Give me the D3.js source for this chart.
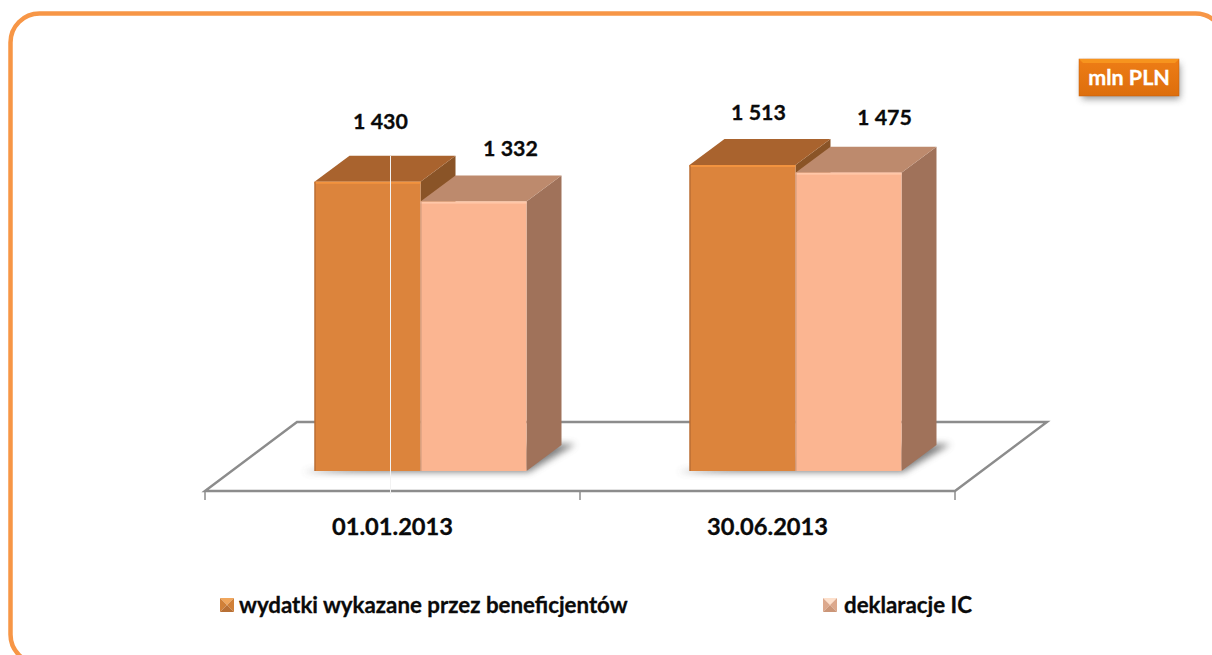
<!DOCTYPE html>
<html>
<head>
<meta charset="utf-8">
<script src="https://cdnjs.cloudflare.com/ajax/libs/d3/7.8.5/d3.min.js"></script>
<style>
  body { margin: 0; background: #fff; overflow: hidden; }
  text { font-family: Lato, "Open Sans", sans-serif; font-weight: 700; fill: #0a0a0a; stroke: #0a0a0a; stroke-width: 0.3px; }
</style>
</head>
<body>
<div class="chart"></div>
<script>
var categories = ["01.01.2013", "30.06.2013"];
var seriesNames = ["wydatki wykazane przez beneficjentów", "deklaracje IC"];
var wydatki = [1430, 1513];
var deklaracje = [1332, 1475];
var valueLabels = [["1 430", "1 513"], ["1 332", "1 475"]];
var unitLabel = "mln PLN";

var svgWidth = 1212;
var svgHeight = 655;

var frontColors = ["#dc843c", "#fbb591"];
var topColors = ["#a9632e", "#bd8a6d"];
var sideColors = ["#8a5427", "#a0725a"];
var edgeColors = ["#f2933f", "#ffc7a8"];
var seamColors = ["#a9632e", "#d09a7c"];

var svg = d3.select(".chart")
    .append("svg")
    .attr("width", svgWidth)
    .attr("height", svgHeight)
    .style("display", "block");

var defs = svg.append("defs");
defs.append("filter").attr("id", "blur").attr("x", "-20%").attr("y", "-50%").attr("width", "140%").attr("height", "200%")
    .append("feGaussianBlur").attr("stdDeviation", 3.5);

var btn = defs.append("linearGradient").attr("id", "btnFill").attr("x1", 0).attr("y1", 0).attr("x2", 0).attr("y2", 1);
btn.append("stop").attr("offset", "0").attr("stop-color", "#ee7d16");
btn.append("stop").attr("offset", "1").attr("stop-color", "#dd6e0c");

// outer frame, runs off the right and bottom of the picture
svg.append("rect")
    .attr("x", 10.5).attr("y", 13.5)
    .attr("width", 1214).attr("height", 650)
    .attr("rx", 29).attr("ry", 29)
    .attr("fill", "#fff")
    .attr("stroke", "#f79646")
    .attr("stroke-width", 4.5);

// depth of the 3d box
var depthX = 35;
var depthY = 26;
var baseY = 471;
var floorFrontY = 491;
var floorBackY = 422;

var x0 = d3.scaleBand().domain(categories).range([205, 955]);
var x1 = d3.scaleBand().domain(d3.range(seriesNames.length)).range([0, 212]);
var barShift = (x0.bandwidth() - x1.range()[1]) / 2 + 28;
var y = d3.scaleLinear().domain([0, 1513]).range([baseY, 165]);

var bars = [];
categories.forEach(function(c, i) {
    [wydatki, deklaracje].forEach(function(s, j) {
        bars.push({ cat: c, series: j, value: s[i], label: valueLabels[j][i], index: i });
    });
});

// floor
var fx = x0.range();
var floorDx = 92;
svg.append("path")
    .attr("d", `M${fx[0]},${floorFrontY} L${fx[0] + floorDx},${floorBackY} L${fx[1] + floorDx},${floorBackY} L${fx[1]},${floorFrontY} Z`)
    .attr("fill", "#fff")
    .attr("stroke", "#8c8c8c")
    .attr("stroke-width", 2.4);

// ticks on band edges
svg.selectAll(".edge-tick")
    .data([fx[0], fx[0] + x0.bandwidth(), fx[1]])
    .join("line")
    .attr("class", "edge-tick")
    .attr("x1", d => d).attr("x2", d => d)
    .attr("y1", floorFrontY).attr("y2", floorFrontY + 9)
    .attr("stroke", "#8c8c8c")
    .attr("stroke-width", 1.5);

// shadows under the boxes
categories.forEach(function(c) {
    var l = x0(c) + barShift;
    var r = l + x1.range()[1];
    svg.append("path")
        .attr("d", `M${l - 12},${baseY + 1} L${r + 2},${baseY + 1} L${r + depthX + 14},${baseY - depthY - 1} L${r + depthX - 20},${baseY - depthY - 1} Z`)
        .attr("fill", "#555")
        .attr("opacity", 0.75)
        .attr("filter", "url(#blur)");
});

var barGroup = svg.selectAll(".bar")
    .data(bars)
    .join("g")
    .attr("class", "bar");

var left = d => x0(d.cat) + barShift + x1(d.series);
var right = d => left(d) + x1.bandwidth();

// side
barGroup.append("path")
    .attr("d", d => `M${right(d)},${y(d.value)} L${right(d) + depthX},${y(d.value) - depthY} L${right(d) + depthX},${baseY - depthY} L${right(d)},${baseY} Z`)
    .attr("fill", d => sideColors[d.series]);

// top
barGroup.append("path")
    .attr("d", d => `M${left(d)},${y(d.value)} L${left(d) + depthX},${y(d.value) - depthY} L${right(d) + depthX},${y(d.value) - depthY} L${right(d)},${y(d.value)} Z`)
    .attr("fill", d => topColors[d.series]);

// front
barGroup.append("rect")
    .attr("x", left)
    .attr("y", d => y(d.value))
    .attr("width", x1.bandwidth())
    .attr("height", d => baseY - y(d.value))
    .attr("fill", d => frontColors[d.series]);

// bevel edge along the top of the front face
barGroup.append("rect")
    .attr("x", left)
    .attr("y", d => y(d.value))
    .attr("width", x1.bandwidth())
    .attr("height", 2)
    .attr("fill", d => edgeColors[d.series]);

// darker seam on the left side of each box
barGroup.append("rect")
    .attr("x", left)
    .attr("y", d => y(d.value))
    .attr("width", 1)
    .attr("height", d => baseY - y(d.value))
    .attr("fill", d => seamColors[d.series]);

// white hairline over the first box
svg.append("line")
    .attr("x1", 390.5).attr("x2", 390.5)
    .attr("y1", 156).attr("y2", 494)
    .attr("stroke", "#f2f2f2")
    .attr("stroke-width", 1);

// value labels were moved by hand in the original, so they need their own nudges
var labelNudge = [
    { dx: 13, dy: -53 }, { dx: 37, dy: -46 },
    { dx: 16, dy: -45 }, { dx: 36, dy: -48 }
];
svg.selectAll(".value-label")
    .data(bars)
    .join("text")
    .attr("class", "value-label")
    .attr("x", (d, i) => (left(d) + right(d)) / 2 + labelNudge[i].dx)
    .attr("y", (d, i) => y(d.value) + labelNudge[i].dy)
    .attr("text-anchor", "middle")
    .attr("font-size", "21.4px")
    .text(d => d.label);

// category axis
var xAxis = svg.append("g")
    .attr("transform", `translate(0,${floorFrontY})`)
    .call(d3.axisBottom(x0).tickSize(0).tickPadding(27));
xAxis.select(".domain").remove();
xAxis.selectAll("text")
    .attr("font-size", "23.7px")
    .style("font-family", "Lato")
    .style("font-weight", 700)
    .attr("fill", "#0a0a0a");

// unit button
var unit = svg.append("g");
unit.append("rect").attr("x", 1082).attr("y", 64).attr("width", 98).attr("height", 35)
    .attr("fill", "#555").attr("opacity", 0.6).attr("filter", "url(#blur)");
unit.append("rect").attr("x", 1079).attr("y", 59).attr("width", 100).attr("height", 37)
    .attr("fill", "url(#btnFill)").attr("stroke", "#c55f0a").attr("stroke-width", 0.5);
unit.append("path").attr("d", "M1079,59 L1179,59 L1175,63 L1083,63 Z").attr("fill", "#f7941e");
unit.append("text")
    .attr("x", 1129).attr("y", 85)
    .attr("text-anchor", "middle")
    .attr("font-size", "21.5px")
    .style("fill", "#fff")
    .style("stroke", "#fff")
    .text(unitLabel);

// legend
var legendX = [220, 823];
var legendY = 598;
var legendSize = 14;
var legend = svg.selectAll(".legend")
    .data(seriesNames)
    .join("g")
    .attr("class", "legend")
    .attr("transform", (d, i) => `translate(${legendX[i]},${legendY})`);

// little pyramid marker: four triangles
var s = legendSize, m = s / 2;
var facets = [
    { pts: `0,0 ${s},0 ${m},${m}`, c: ["#f0a65c", "#fde0cc"] },
    { pts: `0,0 ${m},${m} 0,${s}`, c: ["#d08038", "#dca88c"] },
    { pts: `${s},0 ${m},${m} ${s},${s}`, c: ["#d08038", "#dca88c"] },
    { pts: `0,${s} ${m},${m} ${s},${s}`, c: ["#b87035", "#cb9678"] }
];
facets.forEach(function(f) {
    legend.append("polygon")
        .attr("points", f.pts)
        .attr("fill", (d, i) => f.c[i]);
});
legend.append("text")
    .attr("x", (d, i) => legendSize + (i === 0 ? 5 : 7))
    .attr("y", 15)
    .attr("font-size", "22.3px")
    .text(d => d);
</script>
</body>
</html>
